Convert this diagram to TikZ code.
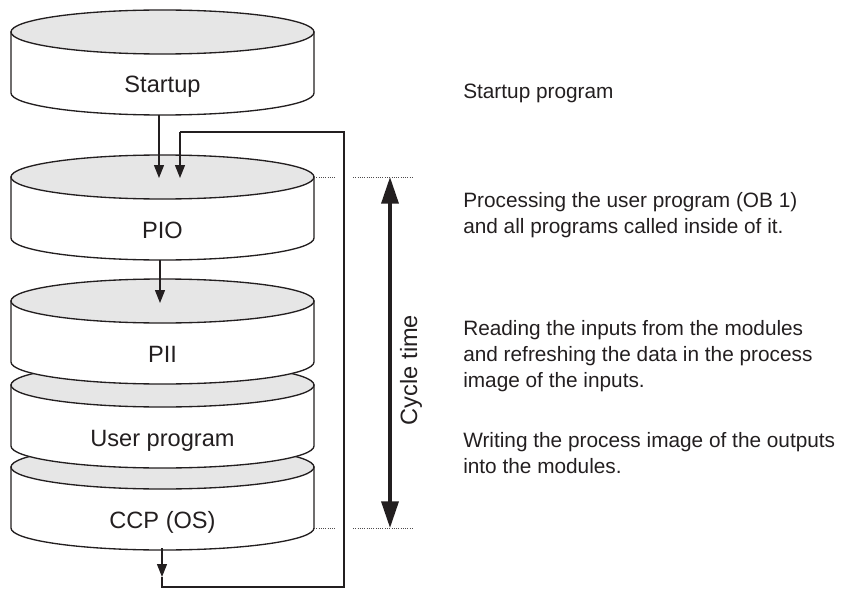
\documentclass[tikz,border=0pt]{standalone}
\usepackage{fontspec}
\setmainfont{Liberation Sans}
\usetikzlibrary{arrows.meta}
\definecolor{ink}{HTML}{231F20}
\definecolor{cylgray}{HTML}{E6E6E6}
\tikzset{
  cylbody/.style={draw=ink, line width=1pt, fill=white},
  cyltop/.style={draw=ink, line width=1pt, fill=cylgray},
  cyllabel/.style={inner sep=0pt, text=ink, font=\fontsize{17.7}{21}\selectfont},
  desc/.style={inner sep=0pt, text=ink, align=left, font=\fontsize{15.6}{19.3}\selectfont},
  conn/.style={draw=ink, line width=0.9pt},
  connarrow/.style={conn, -{Triangle[length=9.75pt,width=7.5pt]}},
  guide/.style={draw=ink!80, line width=0.7pt, densely dotted},
  cyclearrow/.style={draw=ink, line width=2.6pt, {Triangle[length=20pt,width=12.75pt]}-{Triangle[length=20pt,width=12.75pt]}}
}
\newcommand{\mycyl}[4]{%
  \path[cylbody] (11,-#2) -- (11,-#3) arc[start angle=180,end angle=360,x radius=113.625pt,y radius=16.5pt] -- (314,-#2) -- cycle;
  \path[cyltop] (162.5,-#2) ellipse [x radius=113.625pt, y radius=16.5pt];
  \node[cyllabel, anchor=base] (#1) at (162.5,-#3) {#4};
}
\begin{document}
\begin{tikzpicture}[x=0.75pt,y=0.75pt]
\useasboundingbox (0,0) rectangle (848,-588);

% cylinders, drawn from bottom to top
\mycyl{ccp}{467}{528}{CCP (OS)}
\mycyl{user}{385}{446}{User program}
\mycyl{pii}{301}{362}{PII}
\mycyl{pio}{177}{238}{PIO}
\mycyl{startup}{32}{93}{Startup}

% connector end points
\coordinate (startupout) at (159,-115);
\coordinate (pioin1) at (159,-178);
\coordinate (pioout) at (160,-260);
\coordinate (piiin) at (160,-303);
\coordinate (ccpout) at (162,-548);
\coordinate (loopmid) at (162,-577);
\coordinate (loopA) at (162,-587);
\coordinate (loopB) at (344,-587);
\coordinate (loopC) at (344,-132);
\coordinate (loopD) at (180,-132);
\coordinate (pioin2) at (180,-178);

\draw[connarrow] (startupout) -- (pioin1);
\draw[connarrow] (pioout) -- (piiin);
\draw[connarrow] (ccpout) -- (loopmid);
\draw[conn] (loopmid) -- (loopA) -- (loopB) -- (loopC) -- (loopD);
\draw[connarrow] (loopD) -- (pioin2);

% cycle time guides
\coordinate (gt1) at (314,-177);
\coordinate (gt2) at (336,-177);
\coordinate (gt3) at (353,-177);
\coordinate (gt4) at (412,-177);
\coordinate (gb1) at (314,-528);
\coordinate (gb2) at (336,-528);
\coordinate (gb3) at (353,-528);
\coordinate (gb4) at (412,-528);
\draw[guide] (gt1) -- (gt2);
\draw[guide] (gt3) -- (gt4);
\draw[guide] (gb1) -- (gb2);
\draw[guide] (gb3) -- (gb4);

\coordinate (ctop) at (390,-177);
\coordinate (cbot) at (390,-528);
\draw[cyclearrow] (ctop) -- (cbot);
\node[cyllabel, rotate=90, anchor=base] (cycletime) at (417,-370) {Cycle time};

% descriptions (anchor at baseline of last line)
\node[desc, anchor=base west] (d1) at (463,-99) {Startup program};
\node[desc, anchor=base west] (d2) at (463,-233) {Processing the user program (OB 1)\\and all programs called inside of it.};
\node[desc, anchor=base west] (d3) at (463,-387) {Reading the inputs from the modules\\and refreshing the data in the process\\image of the inputs.};
\node[desc, anchor=base west] (d4) at (463,-473) {Writing the process image of the outputs\\into the modules.};
\end{tikzpicture}
\end{document}
